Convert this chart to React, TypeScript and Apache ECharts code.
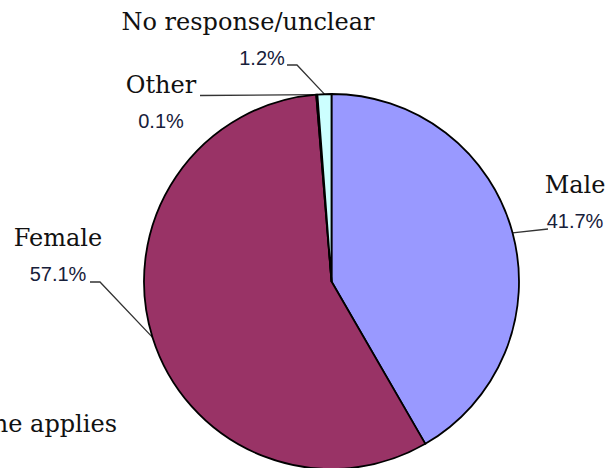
import React, { useEffect, useRef } from "react";
import * as echarts from "echarts";

// Survey respondents by gender (percent)
const categories = ["Male", "Female", "Other", "No response/unclear"];
const shares = [41.7, 57.1, 0.1, 1.2];
const sliceColors = ["#9999FF", "#993366", "#FFFFCC", "#CCFFFF"];

// Pie geometry (px)
const CX = 331.5;
const CY = 281.5;
const R = 187.5;

// Label block centres and the tail of each leader line (px)
const labelPlacement = [
  { x: 575, y: 203, tail: [[548, 229]] },
  { x: 58, y: 256, tail: [[100, 282], [90, 282]] },
  { x: 161, y: 103, tail: [[200, 95.5]] },
  { x: 248, y: 40, tail: [[297, 65], [287, 65]] },
];

const NAME_FONT = "'DejaVu Serif', serif";
const PCT_FONT = "'Liberation Sans', Arial, sans-serif";

export default function App() {
  const ref = useRef<HTMLDivElement>(null);

  useEffect(() => {
    if (!ref.current) return;
    const chart = echarts.init(ref.current, null, { renderer: "svg" });

    const total = shares.reduce((a, b) => a + b, 0);
    // fallback anchor on the rim at the slice's mid angle
    const rimPoint = (i: number) => {
      const before = shares.slice(0, i).reduce((a, b) => a + b, 0);
      const mid = ((before + shares[i] / 2) / total) * 360;
      const ang = ((90 - mid) * Math.PI) / 180;
      return [CX + R * Math.cos(ang), CY - R * Math.sin(ang)];
    };

    chart.setOption({
      animation: false,
      backgroundColor: "#ffffff",
      graphic: [
        {
          type: "text",
          x: 117,
          y: 424,
          style: {
            text: "None applies",
            font: `24px ${NAME_FONT}`,
            fill: "#111111",
            align: "right",
            verticalAlign: "middle",
          },
        },
      ],
      series: [
        {
          type: "pie",
          center: [CX, CY],
          radius: R,
          startAngle: 90,
          clockwise: true,
          avoidLabelOverlap: false,
          data: categories.map((name, i) => ({
            name,
            value: shares[i],
            itemStyle: { color: sliceColors[i] },
            label:
              i === 3
                ? { rich: { p: { padding: [0, 0, 0, 28] } } }
                : undefined,
          })),
          itemStyle: { borderColor: "#000000", borderWidth: 1.8 },
          emphasis: { disabled: true },
          label: {
            show: true,
            position: "outside",
            formatter: (p: any) => `{n|${p.name}}\n{p|${Number(p.value).toFixed(1)}%}`,
            rich: {
              n: {
                fontFamily: NAME_FONT,
                fontSize: 24,
                color: "#111111",
                lineHeight: 36,
                align: "center",
              },
              p: {
                fontFamily: PCT_FONT,
                fontSize: 20,
                color: "#17203a",
                lineHeight: 36,
                align: "center",
              },
            },
          },
          labelLine: {
            show: true,
            length: 10,
            length2: 10,
            lineStyle: { color: "#333333", width: 1.3 },
          },
          labelLayout: (params: any) => {
            const i = params.dataIndex;
            const place = labelPlacement[i];
            const start =
              params.labelLinePoints && params.labelLinePoints[0]
                ? params.labelLinePoints[0]
                : rimPoint(i);
            return {
              x: place.x,
              y: place.y,
              align: "center",
              verticalAlign: "middle",
              labelLinePoints: [start, ...place.tail],
            };
          },
        },
      ],
    });

    return () => chart.dispose();
  }, []);

  return (
    <div
      ref={ref}
      style={{ position: "fixed", left: 0, top: 0, width: 615, height: 468 }}
    />
  );
}
